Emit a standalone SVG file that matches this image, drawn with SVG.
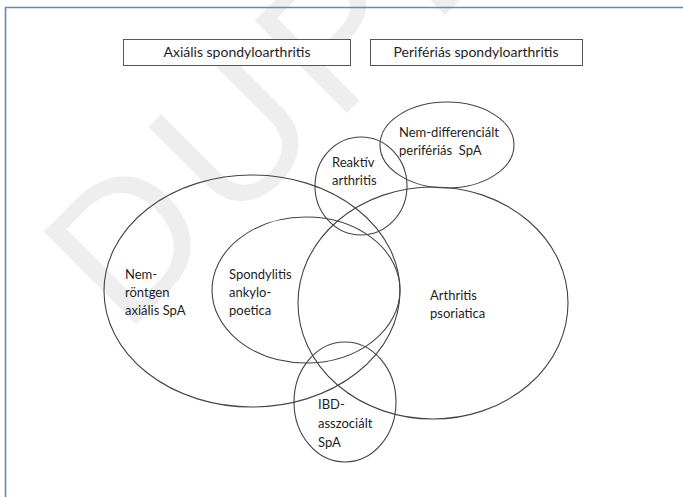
<svg xmlns="http://www.w3.org/2000/svg" width="683" height="497" viewBox="0 0 683 497">
  <style>
    .frame { stroke: #5b8cc4; stroke-width: 1.6; fill: none; }
    .box { fill: #ffffff; stroke: #555555; stroke-width: 1; }
    .set { fill: none; stroke: #444444; stroke-width: 1.1; }
    .lbl { font-family: Lato, "Liberation Sans", sans-serif; font-size: 13px; fill: #1e1e1e; }
    .title { font-family: Lato, "Liberation Sans", sans-serif; font-size: 14px; fill: #1e1e1e; text-anchor: middle; }
    .mark { font-family: "Liberation Sans", Arial, sans-serif; font-size: 190px; fill: #eeeeee; letter-spacing: 12px; }
  </style>

  <rect x="0" y="0" width="683" height="497" fill="#ffffff"/>

  <!-- faint background stamp -->
  <text class="mark" transform="translate(125,335) rotate(-45)">DUPL</text>

  <!-- page frame -->
  <path class="frame" d="M5.5,497 V7.5 H683"/>

  <!-- headings -->
  <g id="axial-heading">
    <rect class="box" x="123.5" y="39.5" width="227" height="26"/>
    <text class="title" x="237" y="57">Axiális spondyloarthritis</text>
  </g>
  <g id="peripheral-heading">
    <rect class="box" x="370.5" y="39.5" width="212" height="26"/>
    <text class="title" x="476" y="57">Perifériás spondyloarthritis</text>
  </g>

  <!-- overlapping sets -->
  <g id="nr-axial">
    <ellipse class="set" cx="252" cy="291" rx="148" ry="116"/>
    <text class="lbl" x="125" y="279">Nem-</text>
    <text class="lbl" x="125" y="297">röntgen</text>
    <text class="lbl" x="125" y="315">axiális SpA</text>
  </g>
  <g id="ankylosing">
    <ellipse class="set" cx="306" cy="290" rx="94" ry="73"/>
    <text class="lbl" x="229" y="279">Spondylitis</text>
    <text class="lbl" x="229" y="297">ankylo-</text>
    <text class="lbl" x="229" y="315">poetica</text>
  </g>
  <g id="psoriatic">
    <ellipse class="set" cx="433" cy="303" rx="135" ry="116"/>
    <text class="lbl" x="430" y="300">Arthritis</text>
    <text class="lbl" x="430" y="318">psoriatica</text>
  </g>
  <g id="reactive">
    <ellipse class="set" cx="361" cy="186" rx="46" ry="49"/>
    <text class="lbl" x="332" y="167">Reaktív</text>
    <text class="lbl" x="332" y="185">arthritis</text>
  </g>
  <g id="undifferentiated">
    <ellipse class="set" cx="447" cy="145" rx="67" ry="43"/>
    <text class="lbl" x="399" y="137">Nem-differenciált</text>
    <text class="lbl" x="399" y="155" xml:space="preserve">perifériás  SpA</text>
  </g>
  <g id="ibd">
    <ellipse class="set" cx="345" cy="402" rx="51" ry="60"/>
    <text class="lbl" x="318" y="409">IBD-</text>
    <text class="lbl" x="318" y="428">asszociált</text>
    <text class="lbl" x="318" y="447">SpA</text>
  </g>

  <!-- no connectors in this diagram -->
  <g id="connectors"/>
</svg>
